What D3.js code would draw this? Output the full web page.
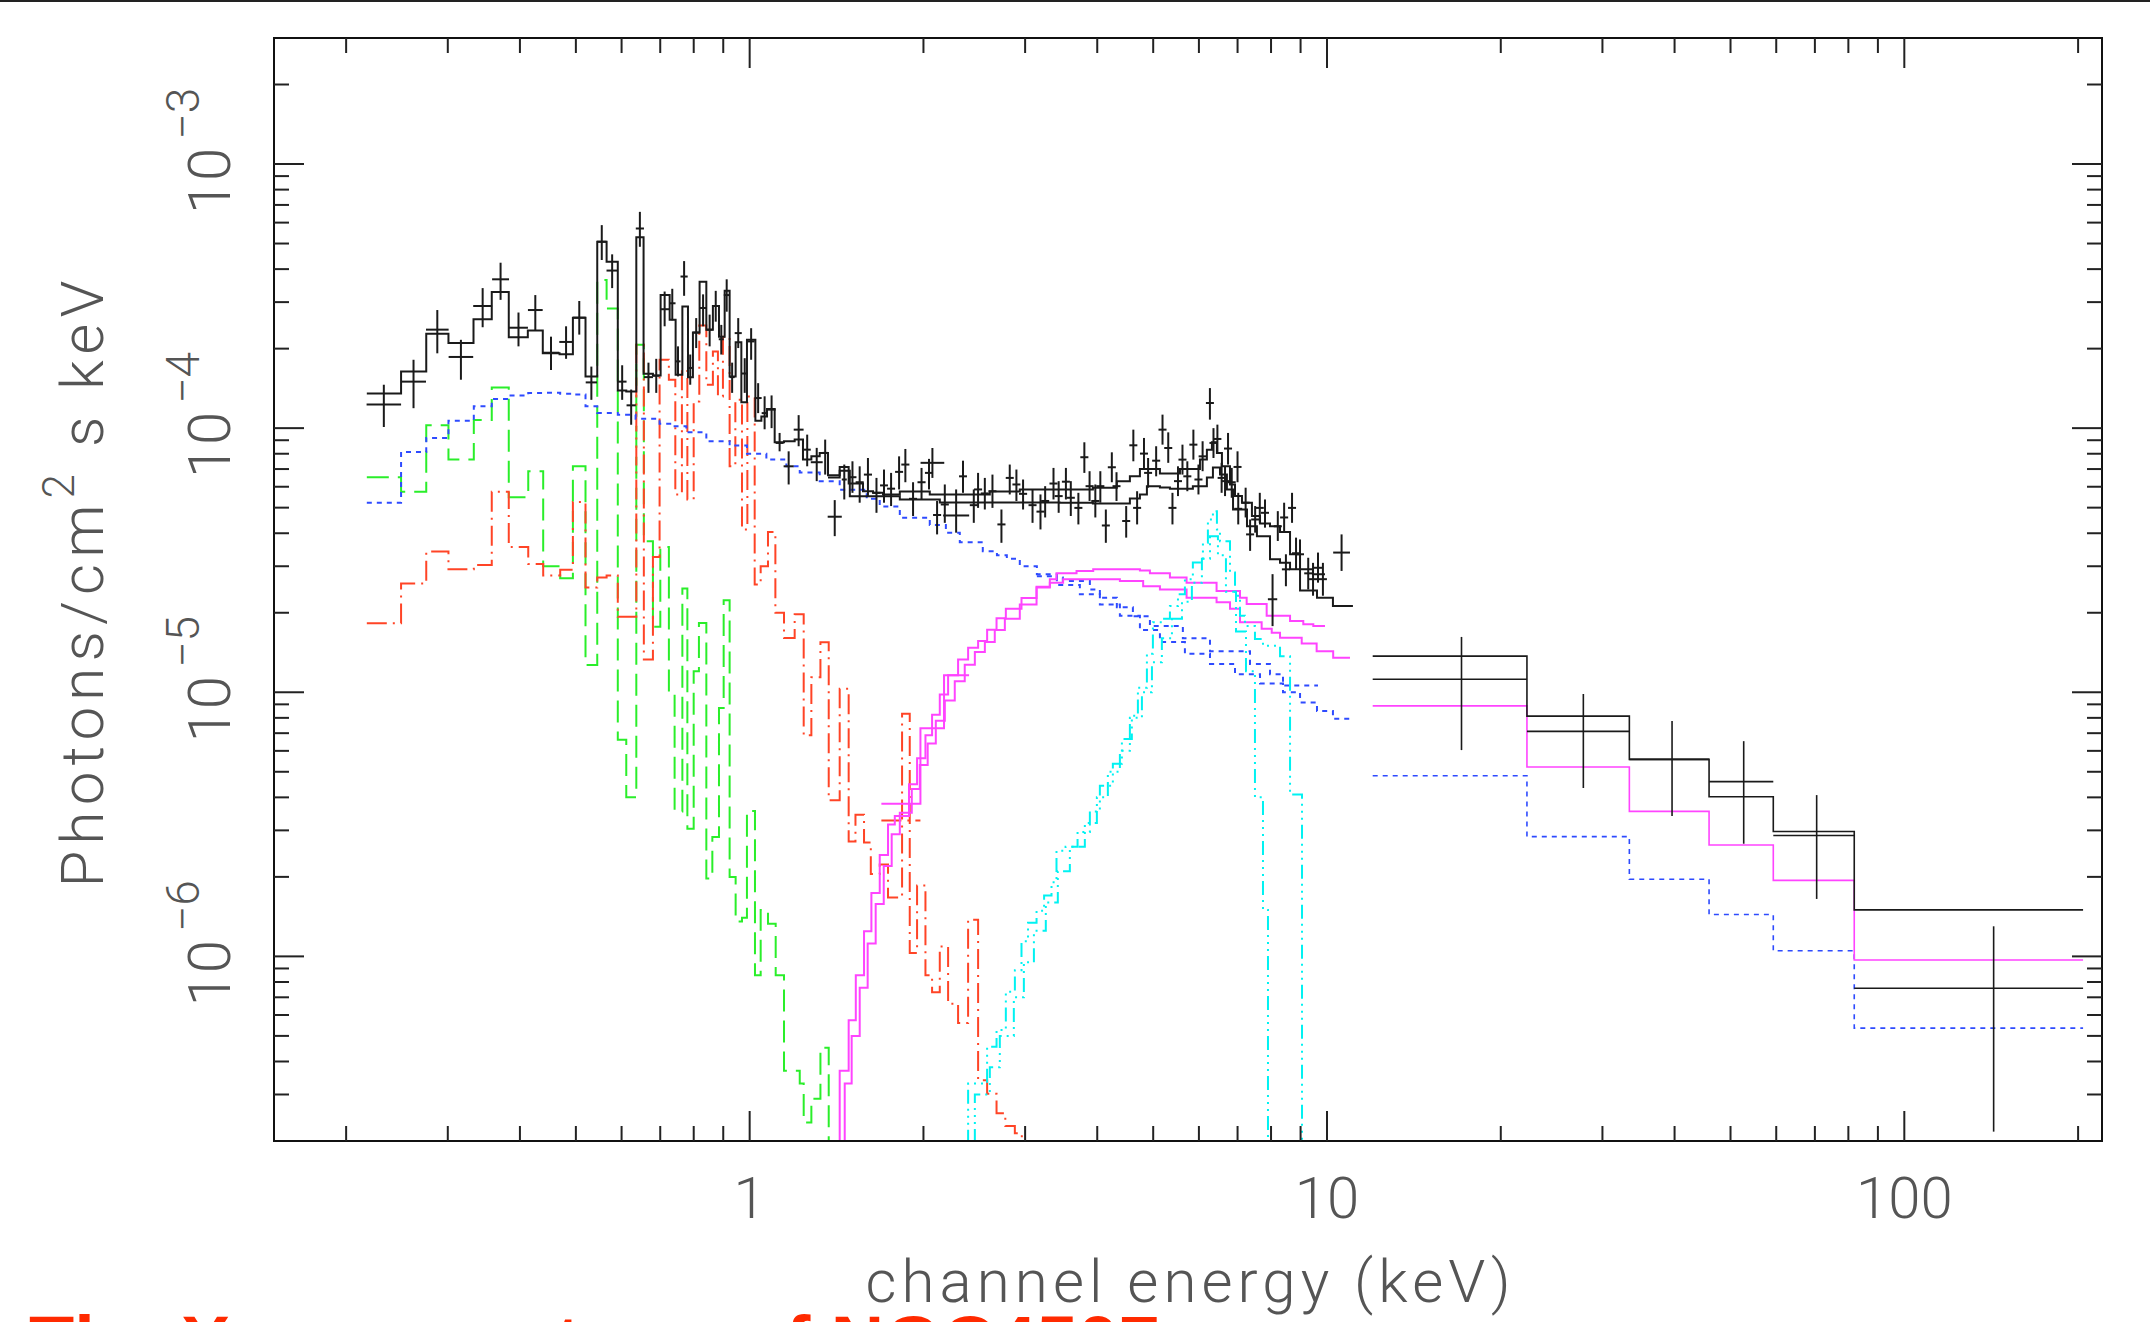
<!DOCTYPE html>
<html lang="en">
<head>
<meta charset="utf-8">
<title>X-ray spectrum</title>
<script src="https://cdn.jsdelivr.net/npm/d3@7"></script>
<style>
  body { margin: 0; background: #fff; }
  svg { display: block; }
</style>
</head>
<body>
<svg id="chart" width="2150" height="1322"></svg>
<script>
// soft band data: [E lo, E hi, flux, flux top, flux bottom]
var softPts = [
  [0.217,0.249,1.23e-4,1.46e-4,1.01e-4], [0.249,0.275,1.50e-4,1.815e-4,1.19e-4],
  [0.275,0.301,2.36e-4,2.80e-4,1.92e-4], [0.301,0.332,1.86e-4,2.16e-4,1.525e-4],
  [0.332,0.358,2.90e-4,3.39e-4,2.41e-4], [0.358,0.383,3.66e-4,4.23e-4,3.06e-4],
  [0.383,0.413,2.40e-4,2.74e-4,2.04e-4], [0.413,0.438,2.80e-4,3.19e-4,2.34e-4],
  [0.438,0.468,1.93e-4,2.22e-4,1.66e-4], [0.468,0.494,2.12e-4,2.43e-4,1.83e-4],
  [0.494,0.520,2.62e-4,3.03e-4,2.26e-4], [0.520,0.544,1.49e-4,1.71e-4,1.28e-4],
  [0.544,0.565,5.08e-4,5.87e-4,4.33e-4], [0.565,0.591,3.95e-4,4.55e-4,3.39e-4],
  [0.591,0.612,1.50e-4,1.73e-4,1.28e-4], [0.612,0.635,1.22e-4,1.40e-4,1.03e-4],
  [0.635,0.656,5.70e-4,6.59e-4,4.86e-4], [0.656,0.680,1.56e-4,1.77e-4,1.36e-4],
  [0.680,0.698,1.58e-4,1.83e-4,1.36e-4], [0.700,0.725,2.82e-4,3.29e-4,2.43e-4],
  [0.725,0.744,2.97e-4,3.37e-4,2.56e-4], [0.744,0.759,1.79e-4,2.04e-4,1.57e-4],
  [0.759,0.781,3.75e-4,4.29e-4,3.17e-4], [0.781,0.797,1.69e-4,1.90e-4,1.46e-4],
  [0.797,0.819,2.30e-4,2.61e-4,2.01e-4], [0.819,0.842,2.85e-4,3.21e-4,2.43e-4],
  [0.842,0.863,2.36e-4,2.69e-4,2.04e-4], [0.863,0.884,2.90e-4,3.31e-4,2.53e-4],
  [0.884,0.902,2.17e-4,2.46e-4,1.90e-4], [0.902,0.923,3.19e-4,3.66e-4,2.76e-4],
  [0.923,0.942,1.56e-4,1.77e-4,1.36e-4], [0.942,0.969,2.29e-4,2.61e-4,2.01e-4],
  [0.969,0.992,1.61e-4,1.84e-4,1.36e-4], [0.992,1.020,2.13e-4,2.39e-4,1.815e-4],
  [1.020,1.049,1.30e-4,1.48e-4,1.14e-4], [1.049,1.074,1.14e-4,1.32e-4,0.99e-4],
  [1.074,1.109,1.175e-4,1.33e-4,1.0e-4], [1.109,1.145,8.79e-5,9.59e-5,8.17e-5],
  [1.145,1.192,7.17e-5,8.17e-5,6.12e-5], [1.192,1.240,9.87e-5,1.12e-4,8.54e-5],
  [1.240,1.276,8.29e-5,9.45e-5,7.17e-5], [1.276,1.338,7.43e-5,8.42e-5,6.30e-5],
  [1.338,1.365,8.06e-5,9.05e-5,6.67e-5], [1.365,1.444,4.62e-5,5.34e-5,3.90e-5],
  [1.444,1.473,6.39e-5,7.28e-5,5.37e-5]
];

// hard band data: [E lo, E hi, flux, flux top, flux bottom]
var hardPts = [
  [1.483,1.531,6.52e-5,7.49e-5,5.69e-5], [1.526,1.576,6.24e-5,7.17e-5,5.22e-5],
  [1.577,1.629,6.67e-5,7.71e-5,5.53e-5], [1.632,1.685,5.69e-5,6.48e-5,4.78e-5],
  [1.682,1.736,6.07e-5,6.97e-5,5.22e-5], [1.730,1.786,5.90e-5,6.77e-5,5.07e-5],
  [1.786,1.844,6.83e-5,7.82e-5,5.86e-5], [1.831,1.891,7.28e-5,8.34e-5,6.24e-5],
  [1.888,1.950,5.40e-5,6.24e-5,4.65e-5], [1.953,2.017,6.24e-5,7.07e-5,5.37e-5],
  [2.012,2.078,6.77e-5,7.65e-5,5.86e-5], [1.977,2.173,7.39e-5,8.41e-5,6.48e-5],
  [2.078,2.146,4.69e-5,5.30e-5,3.96e-5], [2.143,2.213,5.14e-5,6.12e-5,4.38e-5],
  [2.163,2.400,4.67e-5,5.86e-5,4.02e-5], [2.305,2.379,6.57e-5,7.53e-5,5.69e-5],
  [2.406,2.484,5.11e-5,5.86e-5,4.38e-5], [2.447,2.527,5.86e-5,6.77e-5,4.99e-5],
  [2.514,2.596,5.66e-5,6.48e-5,4.92e-5], [2.592,2.676,5.77e-5,6.67e-5,4.99e-5],
  [2.686,2.774,4.32e-5,4.92e-5,3.68e-5], [2.777,2.867,6.48e-5,7.28e-5,5.61e-5],
  [2.852,2.944,6.12e-5,6.97e-5,5.30e-5], [2.928,3.024,5.64e-5,6.39e-5,4.92e-5],
  [3.041,3.140,5.11e-5,5.86e-5,4.38e-5], [3.139,3.241,4.83e-5,5.61e-5,4.135e-5],
  [3.198,3.302,5.30e-5,6.03e-5,4.59e-5], [3.306,3.414,6.17e-5,7.07e-5,5.37e-5],
  [3.375,3.485,5.53e-5,6.30e-5,4.78e-5], [3.474,3.587,6.27e-5,7.07e-5,5.37e-5],
  [3.542,3.658,5.45e-5,6.30e-5,4.65e-5], [3.651,3.770,4.99e-5,5.69e-5,4.32e-5],
  [3.739,3.861,7.76e-5,8.84e-5,6.77e-5], [3.818,3.942,6.03e-5,6.87e-5,5.30e-5],
  [3.906,4.034,5.30e-5,6.12e-5,4.59e-5], [3.985,4.115,6.03e-5,6.87e-5,5.22e-5],
  [4.074,4.206,4.28e-5,4.92e-5,3.68e-5], [4.172,4.308,7.11e-5,8.10e-5,6.24e-5],
  [4.251,4.389,6.03e-5,6.81e-5,5.30e-5], [4.418,4.562,4.45e-5,5.07e-5,3.85e-5],
  [4.546,4.694,8.61e-5,9.87e-5,7.49e-5], [4.615,4.765,4.99e-5,5.77e-5,4.32e-5],
  [4.743,4.897,8.01e-5,9.18e-5,6.97e-5], [4.822,4.978,6.77e-5,7.71e-5,5.95e-5],
  [4.979,5.141,7.53e-5,8.54e-5,6.57e-5], [5.107,5.273,9.87e-5,1.125e-4,8.66e-5],
  [5.225,5.395,8.41e-5,9.64e-5,7.39e-5], [5.314,5.486,4.99e-5,5.69e-5,4.32e-5],
  [5.432,5.608,6.30e-5,7.17e-5,5.53e-5], [5.530,5.710,7.60e-5,8.66e-5,6.67e-5],
  [5.638,5.822,6.57e-5,7.49e-5,5.77e-5], [5.776,5.964,8.66e-5,9.87e-5,7.60e-5],
  [5.894,6.086,6.39e-5,7.28e-5,5.61e-5], [5.993,6.187,7.82e-5,8.92e-5,6.87e-5],
  [6.170,6.370,1.245e-4,1.418e-4,1.077e-4], [6.258,6.462,8.79e-5,1.0e-4,7.71e-5],
  [6.357,6.563,9.10e-5,1.031e-4,8.06e-5], [6.465,6.675,6.48e-5,7.39e-5,5.69e-5],
  [6.553,6.767,6.30e-5,7.17e-5,5.53e-5], [6.632,6.848,8.37e-5,9.59e-5,7.28e-5],
  [6.731,6.949,6.24e-5,7.07e-5,5.45e-5], [6.888,7.112,7.13e-5,8.17e-5,6.24e-5],
  [6.908,7.132,4.95e-5,5.69e-5,4.32e-5], [7.114,7.346,5.22e-5,5.95e-5,4.59e-5],
  [7.242,7.478,3.96e-5,4.51e-5,3.43e-5], [7.390,7.630,4.51e-5,5.07e-5,4.02e-5],
  [7.528,7.772,4.99e-5,5.69e-5,4.38e-5], [7.685,7.935,4.78e-5,5.37e-5,4.20e-5],
  [7.90,8.20,2.25e-5,2.80e-5,1.78e-5], [8.088,8.352,4.25e-5,4.85e-5,3.74e-5],
  [8.295,8.565,4.59e-5,5.22e-5,4.02e-5], [8.354,8.626,2.92e-5,3.33e-5,2.52e-5],
  [8.561,8.839,4.99e-5,5.69e-5,4.38e-5], [8.699,8.981,3.36e-5,3.85e-5,2.92e-5],
  [8.836,9.124,3.33e-5,3.79e-5,2.88e-5], [9.132,9.428,2.82e-5,3.23e-5,2.45e-5],
  [9.309,9.611,2.68e-5,3.09e-5,2.32e-5], [9.496,9.804,2.96e-5,3.38e-5,2.60e-5],
  [9.683,9.997,2.68e-5,3.09e-5,2.32e-5], [10.25,10.96,3.38e-5,3.96e-5,2.88e-5]
];

// high energy bins
var batEdges = [12.0, 22.2, 33.4, 45.9, 59.3, 81.9, 204];
var batMid = [17.1, 27.8, 39.6, 52.7, 70.5, 142.8];
var batF = [1.12e-5, 7.11e-6, 5.57e-6, 4.59e-6, 2.87e-6, 7.57e-7];
var batTop = [1.62e-5, 9.85e-6, 7.78e-6, 6.53e-6, 4.08e-6, 1.30e-6];
var batBot = [6.04e-6, 4.34e-6, 3.40e-6, 2.67e-6, 1.65e-6, 2.17e-7];
var batTotal = [1.37e-5, 8.12e-6, 5.57e-6, 4.02e-6, 2.97e-6, 1.50e-6];
var batRefl = [8.88e-6, 5.21e-6, 3.54e-6, 2.64e-6, 1.94e-6, 9.69e-7];
var batPow = [4.83e-6, 2.84e-6, 1.96e-6, 1.44e-6, 1.05e-6, 5.35e-7];

// total model, first instrument
var totAE = [0.2172,0.2490,0.2753,0.3008,0.3324,0.3575,0.3826,0.4128,0.4382,0.4685,0.4941,0.5196,0.5445,0.5652,0.5910,0.6113,0.6363,0.6550,0.6799,0.7011,0.7268,0.7443,0.7646,0.7819,0.7975,0.8190,0.8413,0.8636,0.8848,0.9051,0.9232,0.9456,0.9674,0.9893,1.0230,1.0478,1.0715,1.1049,1.1468,1.1966,1.2369,1.279,1.3223,1.3668,1.432,1.4842,1.5714,1.6357,1.7022,1.820,2.051,2.312,2.606,2.937,3.445,3.931,4.325,4.556,4.742,5.136,5.563,6.025,6.194,6.320,6.447,6.577,6.792,6.929,7.124,7.413,7.656,7.967,8.292,8.630,8.981,9.456,9.920];
var totAF = [1.354e-4,1.639e-4,2.275e-4,2.099e-4,2.585e-4,3.28e-4,2.21e-4,2.34e-4,1.923e-4,1.906e-4,2.62e-4,1.569e-4,5.08e-4,4.27e-4,1.389e-4,1.377e-4,5.28e-4,1.607e-4,1.583e-4,3.19e-4,2.57e-4,1.593e-4,2.885e-4,1.56e-4,2.30e-4,3.585e-4,2.356e-4,2.90e-4,2.22e-4,3.31e-4,1.569e-4,2.116e-4,1.252e-4,2.16e-4,1.067e-4,1.108e-4,1.182e-4,8.84e-5,8.92e-5,9.05e-5,7.60e-5,7.82e-5,8.06e-5,6.63e-5,7.13e-5,6.17e-5,5.77e-5,5.69e-5,5.61e-5,5.75e-5,5.61e-5,5.61e-5,5.75e-5,5.86e-5,5.86e-5,5.95e-5,6.30e-5,6.57e-5,7.01e-5,6.73e-5,7.01e-5,7.60e-5,8.29e-5,8.84e-5,8.06e-5,7.17e-5,6.12e-5,5.53e-5,5.22e-5,4.65e-5,4.35e-5,4.25e-5,4.04e-5,3.33e-5,2.92e-5,2.80e-5];

// total model, second instrument
var totBE = [1.3668,1.432,1.491,1.820,2.135,2.822,3.445,3.931,4.556,4.742,4.876,5.136,5.345,5.857,6.194,6.345,6.526,6.709,6.875,7.268,7.562,7.967,8.292,8.630,8.981,9.609,10.24,11.09];
var totBF = [6.5e-5,6.9e-5,5.52e-5,5.37e-5,5.23e-5,5.23e-5,5.22e-5,5.18e-5,5.42e-5,5.61e-5,6.03e-5,5.96e-5,5.90e-5,6.03e-5,6.50e-5,7.09e-5,6.67e-5,5.86e-5,4.92e-5,4.25e-5,3.90e-5,3.19e-5,3.09e-5,2.92e-5,2.43e-5,2.28e-5,2.12e-5];

// soft emission component (green, dashed)
var greenE = [0.2172,0.2490,0.2753,0.3008,0.3328,0.3575,0.3826,0.4135,0.4389,0.4697,0.4941,0.5196,0.5445,0.5652,0.5910,0.6113,0.6363,0.6557,0.6799,0.7002,0.7246,0.7413,0.7646,0.7800,0.7999,0.8168,0.8413,0.8617,0.8848,0.9015,0.9232,0.9456,0.9698,0.9892,1.0214,1.0449,1.0758,1.1094,1.1468,1.2211,1.2405,1.279,1.3261,1.3707,1.432];
var greenF = [6.52e-5,5.74e-5,1.025e-4,7.60e-5,1.074e-4,1.426e-4,5.48e-5,6.87e-5,3.00e-5,2.70e-5,7.17e-5,1.267e-5,3.64e-4,2.84e-4,6.61e-6,4e-6,2.07e-4,3.73e-5,1.77e-5,3.55e-5,1.0e-5,3.54e-6,2.47e-5,3.04e-6,1.2e-5,1.83e-5,1.97e-6,2.83e-6,8.71e-6,2.23e-5,2e-6,1.355e-6,1.4e-6,3.55e-6,8.49e-7,1.50e-6,1.33e-6,8.49e-7,3.69e-7,3.30e-7,2.35e-7,2.89e-7,4.51e-7,5e-8];

// second emission component (red, dash-dot)
var redE = [0.2172,0.2490,0.2753,0.3008,0.3328,0.3575,0.3826,0.4135,0.4389,0.4697,0.4941,0.5196,0.5445,0.5652,0.5910,0.6363,0.6557,0.6799,0.6982,0.7245,0.7434,0.7632,0.7800,0.7999,0.8180,0.8413,0.8636,0.8811,0.8989,0.9232,0.9445,0.9698,0.9909,1.0202,1.0449,1.0758,1.1080,1.1468,1.1966,1.2405,1.279,1.3261,1.3707,1.432,1.4842,1.525,1.578,1.6212,1.680,1.7364,1.8365,1.8936,1.9497,2.016,2.070,2.1346,2.2066,2.2962,2.3898,2.4871,2.5782,2.6768,2.7722,2.8796,2.9608,3.057];
var redF = [1.826e-5,2.58e-5,3.41e-5,2.92e-5,3.03e-5,5.74e-5,3.55e-5,3.06e-5,2.77e-5,2.91e-5,5.25e-5,2.49e-5,2.72e-5,2.77e-5,1.93e-5,2.07e-4,1.33e-5,3.25e-5,1.815e-4,1.525e-4,5.61e-5,1.663e-4,5.37e-5,1.262e-4,2.445e-4,1.46e-4,1.95e-4,1.318e-4,2.22e-4,7.17e-5,1.281e-4,4.13e-5,1.318e-4,2.56e-5,3.00e-5,4.04e-5,2.00e-5,1.605e-5,1.974e-5,6.87e-6,1.14e-5,1.547e-5,3.90e-6,1.031e-5,2.72e-6,3.44e-6,2.70e-6,2.05e-6,2.23e-6,1.67e-6,8.30e-6,1.03e-6,1.856e-6,8.49e-7,7.31e-7,1.09e-6,6.62e-7,5.60e-7,1.375e-6,3.40e-7,3.02e-7,2.55e-7,2.28e-7,2.14e-7,1e-7];

// scattered power law (blue, dotted)
var blueAE = [0.2172,0.249,0.2753,0.3008,0.3328,0.3575,0.3826,0.4135,0.4389,0.4697,0.4941,0.5196,0.5445,0.591,0.6345,0.6982,0.7413,0.7769,0.8413,0.9232,0.9893,1.0689,1.1577,1.2211,1.3223,1.432,1.5949,1.68,1.82,2.051,2.187,2.312,2.534,2.681,2.789,2.937,3.144,3.405,3.487,3.884,4.042,4.325,4.611,4.935,5.628,6.271,7.356,7.967,8.391,9.647];
var blueAF = [5.22e-5,8.13e-5,9.18e-5,1.067e-4,1.209e-4,1.29e-4,1.33e-4,1.359e-4,1.36e-4,1.35e-4,1.34e-4,1.209e-4,1.141e-4,1.124e-4,1.086e-4,1.04e-4,1.016e-4,9.64e-5,8.92e-5,8.59e-5,8.0e-5,7.6e-5,7.17e-5,6.8e-5,6.3e-5,5.85e-5,5.4e-5,5.05e-5,4.58e-5,4.3e-5,4.02e-5,3.7e-5,3.42e-5,3.3e-5,3.2e-5,3.0e-5,2.8e-5,2.72e-5,2.64e-5,2.45e-5,2.28e-5,2.1e-5,1.94e-5,1.78e-5,1.6e-5,1.43e-5,1.28e-5,1.17e-5,1.06e-5];
var blueBE = [3.144,3.405,3.732,4.042,4.378,4.742,5.136,5.674,6.271,6.929,7.656,8.391,8.981,9.609,10.24,11.09];
var blueBF = [2.75e-5,2.55e-5,2.35e-5,2.15e-5,1.95e-5,1.72e-5,1.55e-5,1.4e-5,1.28e-5,1.17e-5,1.08e-5,1.0e-5,9.15e-6,8.5e-6,7.93e-6];

// absorbed power law (magenta)
var magAE = [1.40,1.432,1.4842,1.527,1.578,1.625,1.680,1.7364,1.784,1.888,1.9497,2.016,2.070,2.1346,2.2066,2.2962,2.390,2.4871,2.5782,2.6768,2.778,2.957,3.140,3.311,3.400,3.683,3.936,4.742,4.935,5.345,5.712,6.438,7.068,7.259,7.862,8.630,9.098,9.469,9.920];
var magAF = [1e-7,3.69e-7,5.73e-7,8.49e-7,1.245e-6,1.738e-6,2.42e-6,3.16e-6,3.4e-6,4.48e-6,5.63e-6,6.87e-6,8.22e-6,9.81e-6,1.159e-5,1.332e-5,1.473e-5,1.563e-5,1.726e-5,1.908e-5,2.07e-5,2.277e-5,2.49e-5,2.68e-5,2.82e-5,2.88e-5,2.92e-5,2.89e-5,2.82e-5,2.72e-5,2.6e-5,2.42e-5,2.28e-5,2.16e-5,1.95e-5,1.86e-5,1.81e-5,1.78e-5];
var magBE = [1.43,1.461,1.502,1.551,1.601,1.653,1.707,1.762,1.820,1.909,1.971,2.034,2.101,2.178,2.266,2.358,2.455,2.555,2.658,2.767,2.937,3.140,3.311,3.491,3.936,4.378,4.804,5.136,5.712,6.438,6.792,7.068,7.706,8.022,8.292,9.041,9.596,10.25,10.96];
var magBF = [1e-7,3.3e-7,5.0e-7,7.6e-7,1.12e-6,1.58e-6,2.2e-6,2.9e-6,3.5e-6,4.3e-6,5.3e-6,6.4e-6,7.8e-6,9.3e-6,1.1e-5,1.27e-5,1.42e-5,1.55e-5,1.72e-5,1.9e-5,2.15e-5,2.51e-5,2.6e-5,2.68e-5,2.68e-5,2.64e-5,2.52e-5,2.45e-5,2.28e-5,2.19e-5,2.07e-5,1.84e-5,1.74e-5,1.68e-5,1.61e-5,1.53e-5,1.43e-5,1.35e-5];
var magCE = [1.691, 1.976, 2.171, 2.399];
var magCF = [3.78e-6, 7.3e-6, 1.16e-5];
var redCE = [1.691, 1.976];
var redCF = [3.27e-6];

// reflection + iron line (cyan)
var cyanAE = [2.36,2.39,2.578,2.677,2.778,2.88,2.957,3.035,3.14,3.236,3.333,3.40,3.525,3.698,3.884,4.042,4.257,4.413,4.592,4.704,4.876,4.994,5.176,5.345,5.519,5.674,5.857,6.097,6.219,6.345,6.447,6.526,6.792,6.929,7.068,7.21,7.503,7.747,8.292,8.63,9.052,9.344];
var cyanAF = [1e-7,3.3e-7,4.55e-7,5.26e-7,7.35e-7,8.87e-7,1.14e-6,1.34e-6,1.49e-6,1.7e-6,1.91e-6,2.51e-6,2.6e-6,2.96e-6,3.54e-6,4.43e-6,5.36e-6,6.65e-6,8.15e-6,1.04e-5,1.4e-5,1.84e-5,1.9e-5,2.12e-5,2.35e-5,2.68e-5,3.1e-5,3.68e-5,4.51e-5,4.85e-5,4.13e-5,3.73e-5,2.84e-5,2.32e-5,1.95e-5,1.78e-5,1.59e-5,1.5e-5,1.37e-5,4.1e-6,1e-7];
var cyanBE = [2.43,2.455,2.606,2.712,2.868,2.985,3.107,3.258,3.418,3.586,3.807,3.994,4.173,4.378,4.556,4.78,4.975,5.176,5.388,5.608,5.834,6.072,6.271,6.473,6.683,6.957,7.239,7.503,7.747,7.903,8.128];
var cyanBF = [1e-7,3.0e-7,3.8e-7,5.0e-7,7.0e-7,9.5e-7,1.25e-6,1.6e-6,2.1e-6,2.6e-6,3.2e-6,4.0e-6,5.0e-6,6.0e-6,8.0e-6,1.0e-5,1.3e-5,1.6e-5,1.9e-5,2.2e-5,2.6e-5,3.2e-5,3.9e-5,3.3e-5,2.4e-5,1.7e-5,1.2e-5,4e-6,1.5e-6,1e-7];

// axis labels
var xLabelVals = [1, 10, 100];
var xLabelText = ["1", "10", "100"];
var yLabelVals = [1e-3, 1e-4, 1e-5, 1e-6];
var yLabelExp = ["\u22123", "\u22124", "\u22125", "\u22126"];

var mL = 274, mR = 2102, mT = 38, mB = 1141;
var labelFont = "Roboto, 'DejaVu Sans', sans-serif";

var x = d3.scaleLog().domain([0.15, 220]).range([mL, mR]);
var y = d3.scaleLog().domain([2e-7, 3e-3]).range([mB, mT]);

var svg = d3.select("#chart");

svg.append("rect").attr("x", 0).attr("y", 0).attr("width", 2150).attr("height", 2).attr("fill", "#222");

svg.append("defs").append("clipPath").attr("id", "clip")
   .append("rect").attr("x", mL).attr("y", mT).attr("width", mR - mL).attr("height", mB - mT);

var plot = svg.append("g").attr("clip-path", "url(#clip)");

function steps(edges, vals) {
  var p = "M" + x(edges[0]) + "," + y(vals[0]);
  for (var i = 0; i < vals.length; i++) {
    if (i > 0) p += "V" + y(vals[i]);
    p += "H" + x(edges[i + 1]);
  }
  return p;
}

function drawSteps(edges, vals, color, dash, width) {
  plot.append("path")
      .attr("d", steps(edges, vals))
      .attr("fill", "none")
      .attr("stroke", color)
      .attr("stroke-width", width || 2)
      .attr("stroke-dasharray", dash || null);
}

var green = "#2aee2a", red = "#ff4426", blue = "#2e4bff", magenta = "#ff44ff", cyan = "#00f2f2";

drawSteps(greenE, greenF, green, "22,9");
drawSteps(redE, redF, red, "20,6,2,6");
drawSteps(redCE, redCF, red, "20,6,2,6");
drawSteps(blueAE, blueAF, blue, "5,5");
drawSteps(blueBE, blueBF, blue, "5,5");
drawSteps(magAE, magAF, magenta);
drawSteps(magBE, magBF, magenta);
drawSteps(magCE, magCF, magenta);
drawSteps(cyanAE, cyanAF, cyan, "14,5,2,5,2,5,2,5");
drawSteps(cyanBE, cyanBF, cyan, "14,5,2,5,2,5,2,5");

drawSteps(batEdges, batPow, blue, "5,5", 1.6);
drawSteps(batEdges, batRefl, magenta, null, 1.6);

drawSteps(totAE, totAF, "#1a1a1a", null, 2);
drawSteps(totBE, totBF, "#1a1a1a", null, 2);
drawSteps(batEdges, batTotal, "#1a1a1a", null, 1.6);

// data crosses
function cross(lo, hi, mid, f, t, b, w) {
  plot.append("line").attr("x1", x(lo)).attr("x2", x(hi)).attr("y1", y(f)).attr("y2", y(f))
      .attr("stroke", "#1a1a1a").attr("stroke-width", w);
  plot.append("line").attr("x1", x(mid)).attr("x2", x(mid)).attr("y1", y(t)).attr("y2", y(b))
      .attr("stroke", "#1a1a1a").attr("stroke-width", w);
}
softPts.concat(hardPts).forEach(function(d) {
  cross(d[0], d[1], Math.sqrt(d[0] * d[1]), d[2], d[3], d[4], 2);
});
batF.forEach(function(f, i) {
  cross(batEdges[i], batEdges[i + 1], batMid[i], f, batTop[i], batBot[i], 1.6);
});

// frame and ticks
svg.append("rect").attr("x", mL).attr("y", mT).attr("width", mR - mL).attr("height", mB - mT)
   .attr("fill", "none").attr("stroke", "#111").attr("stroke-width", 2);

function isMajor(v) { var l = Math.log10(v); return Math.abs(l - Math.round(l)) < 1e-6; }

var xt = x.ticks().filter(function(d) { return d > 0.15 && d < 220; });
var yt = y.ticks().filter(function(d) { return d > 2.01e-7 && d < 2.99e-3; });
var ticks = svg.append("g").attr("stroke", "#222").attr("stroke-width", 2);

xt.forEach(function(d) {
  var len = isMajor(d) ? 30 : 15;
  ticks.append("line").attr("x1", x(d)).attr("x2", x(d)).attr("y1", mB).attr("y2", mB - len);
  ticks.append("line").attr("x1", x(d)).attr("x2", x(d)).attr("y1", mT).attr("y2", mT + len);
});
yt.forEach(function(d) {
  var len = isMajor(d) ? 30 : 15;
  ticks.append("line").attr("x1", mL).attr("x2", mL + len).attr("y1", y(d)).attr("y2", y(d));
  ticks.append("line").attr("x1", mR).attr("x2", mR - len).attr("y1", y(d)).attr("y2", y(d));
});

// tick labels
xLabelVals.forEach(function(v, i) {
  svg.append("text").attr("x", x(v)).attr("y", 1218)
     .attr("text-anchor", "middle").attr("font-family", labelFont).attr("font-weight", 300)
     .attr("font-size", 58).attr("fill", "#555").text(xLabelText[i]);
});
yLabelVals.forEach(function(v, i) {
  var t = svg.append("text")
     .attr("transform", "translate(230," + (y(v) - 13) + ") rotate(-90)")
     .attr("text-anchor", "middle").attr("font-family", labelFont).attr("font-weight", 300)
     .attr("font-size", 60).attr("fill", "#555");
  t.append("tspan").text("10");
  t.append("tspan").attr("dx", 8).attr("dy", -31).attr("font-size", 46).text(yLabelExp[i]);
});

// axis titles
svg.append("text").attr("x", (mL + mR) / 2).attr("y", 1302)
   .attr("text-anchor", "middle").attr("font-family", labelFont).attr("font-weight", 300)
   .attr("font-size", 60).attr("fill", "#555")
   .attr("textLength", 645).attr("lengthAdjust", "spacing")
   .text("channel energy (keV)");

var yt2 = svg.append("text")
   .attr("transform", "translate(103,584) rotate(-90)")
   .attr("text-anchor", "middle").attr("font-family", labelFont).attr("font-weight", 300)
   .attr("font-size", 60).attr("fill", "#555")
   .attr("textLength", 607).attr("lengthAdjust", "spacing");
yt2.append("tspan").text("Photons/cm");
yt2.append("tspan").attr("dy", -29).attr("font-size", 44).text("2");
yt2.append("tspan").attr("dy", 29).text(" s keV");

// caption at the bottom edge
svg.append("text").attr("x", 29).attr("y", 1368)
   .attr("font-family", "'Liberation Sans', Arial, sans-serif").attr("font-weight", "bold")
   .attr("font-size", 74).attr("fill", "#ff2a00")
   .text("The X-ray spectrum of NGC4507");
</script>
</body>
</html>
